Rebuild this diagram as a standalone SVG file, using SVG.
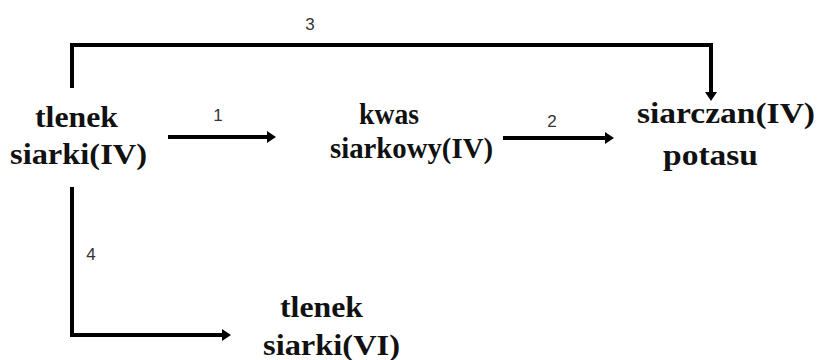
<svg xmlns="http://www.w3.org/2000/svg" width="817" height="360" viewBox="0 0 817 360">
<style>
.n{font-family:"Liberation Serif","Times New Roman",serif;font-weight:bold;font-size:29px;fill:#111}
.l{font-family:"Liberation Sans",Arial,sans-serif;font-size:17px;fill:#333;text-anchor:middle}
.c{fill:none;stroke:#000;stroke-width:4;stroke-linejoin:miter}
</style>
<defs>
<marker id="ah" markerUnits="userSpaceOnUse" viewBox="0 0 9 12" markerWidth="9" markerHeight="12" refX="0" refY="6" orient="auto">
<path d="M0,0 L9,6 L0,12 z" fill="#000"/>
</marker>
</defs>
<rect width="817" height="360" fill="#fff"/>
<g id="connectors">
<path class="c" d="M72,88 V45 H711 V92" marker-end="url(#ah)"/>
<path class="c" d="M168,137 H267" marker-end="url(#ah)"/>
<path class="c" d="M503,138 H605" marker-end="url(#ah)"/>
<path class="c" d="M72,187 V335 H222" marker-end="url(#ah)"/>
<text class="l" x="310" y="30">3</text>
<text class="l" x="218" y="121">1</text>
<text class="l" x="552" y="127">2</text>
<text class="l" x="91" y="260">4</text>
</g>
<g id="so2">
<text class="n" x="35" y="127" textLength="83" lengthAdjust="spacingAndGlyphs">tlenek</text>
<text class="n" x="10" y="164" textLength="137" lengthAdjust="spacingAndGlyphs">siarki(IV)</text>
</g>
<g id="h2so3">
<text class="n" x="359" y="124" textLength="60" lengthAdjust="spacingAndGlyphs">kwas</text>
<text class="n" x="330" y="158" textLength="163" lengthAdjust="spacingAndGlyphs">siarkowy(IV)</text>
</g>
<g id="k2so3">
<text class="n" x="637" y="123" textLength="178" lengthAdjust="spacingAndGlyphs">siarczan(IV)</text>
<text class="n" x="663" y="165" textLength="95" lengthAdjust="spacingAndGlyphs">potasu</text>
</g>
<g id="so3">
<text class="n" x="280" y="317" textLength="83" lengthAdjust="spacingAndGlyphs">tlenek</text>
<text class="n" x="263" y="355" textLength="137" lengthAdjust="spacingAndGlyphs">siarki(VI)</text>
</g>
</svg>
